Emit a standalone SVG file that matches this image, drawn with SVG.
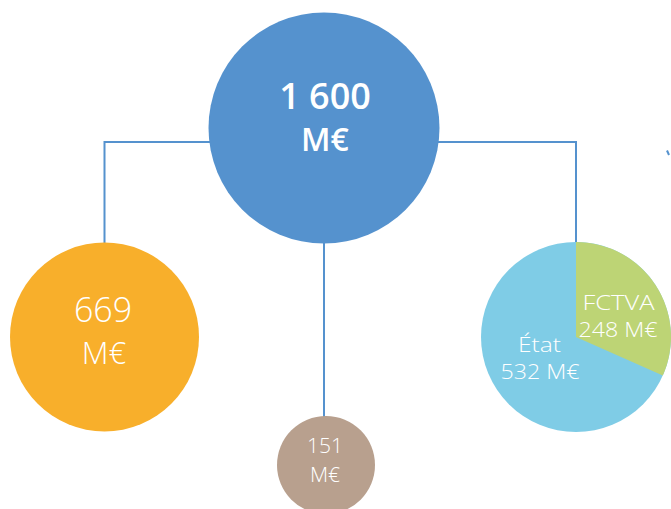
<svg xmlns="http://www.w3.org/2000/svg" width="671" height="509" viewBox="0 0 671 509">
<style>
.conn{fill:none;stroke:#5592CE;stroke-width:2}
.t{fill:#fff;font-family:"Open Sans","Noto Sans","Liberation Sans",sans-serif;text-anchor:middle;font-weight:300}
.b{font-weight:600}
</style>
<rect width="671" height="509" fill="#fff"/>
<g id="connectors">
<polyline class="conn" points="210,142 104.5,142 104.5,244"/>
<polyline class="conn" points="437,142 576,142 576,244"/>
<line class="conn" x1="324" y1="240" x2="324" y2="418"/>
<line class="conn" x1="667" y1="150.5" x2="669" y2="155"/>
</g>
<g id="total">
<circle cx="324" cy="128" r="115.5" fill="#5592CE"/>
<text class="t b"><tspan x="325" y="109" font-size="36">1 600</tspan><tspan x="325" y="151" font-size="32">M€</tspan></text>
</g>
<g id="left">
<circle cx="104.5" cy="337" r="94.5" fill="#F8AF2B"/>
<text class="t"><tspan x="103" y="322" font-size="34">669</tspan><tspan x="104" y="364" font-size="31">M€</tspan></text>
</g>
<g id="bottom">
<circle cx="326" cy="465" r="49" fill="#B8A08E"/>
<text class="t" font-size="21"><tspan x="325" y="453">151</tspan><tspan x="325" y="482">M€</tspan></text>
</g>
<g id="right">
<circle cx="576" cy="337" r="95" fill="#7FCCE6"/>
<path d="M576,337 L576,242 A95,95 0 0 1 662.8,375.6 Z" fill="#BDD475"/>
<text class="t" x="618.5" y="309.5" font-size="19.5" textLength="72" lengthAdjust="spacingAndGlyphs">FCTVA</text>
<text class="t" x="618" y="336.5" font-size="19.5" textLength="79" lengthAdjust="spacingAndGlyphs">248 M€</text>
<text class="t" x="539.5" y="351.5" font-size="19.5" textLength="43" lengthAdjust="spacingAndGlyphs">État</text>
<text class="t" x="540" y="378.5" font-size="19.5" textLength="79" lengthAdjust="spacingAndGlyphs">532 M€</text>
</g>
</svg>
